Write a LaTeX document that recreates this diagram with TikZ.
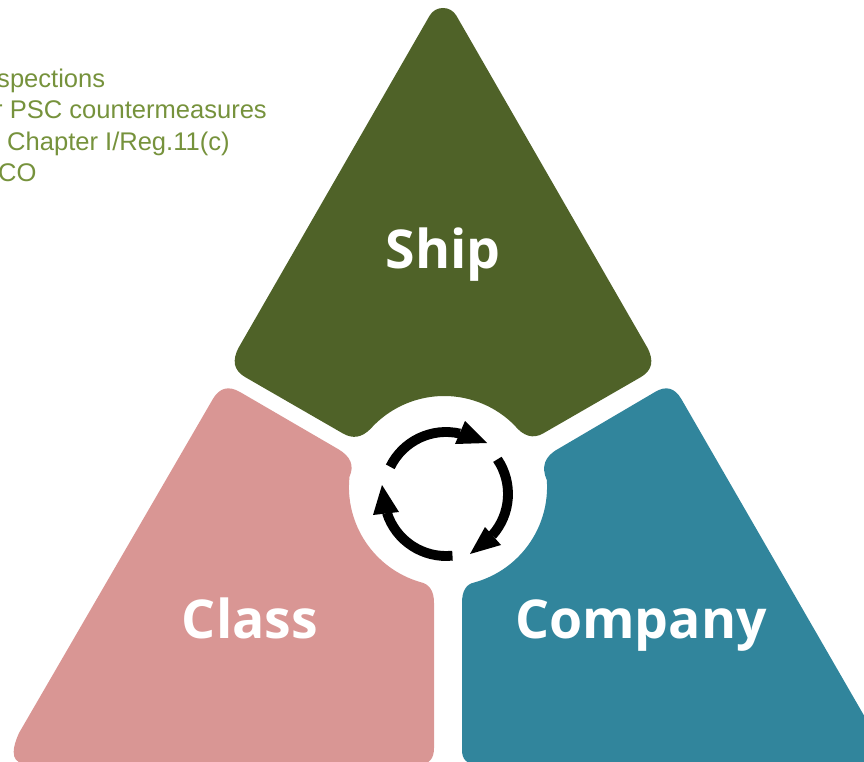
\documentclass[tikz,border=0pt]{standalone}
\usepackage{fontspec}
\usetikzlibrary{calc}
\setmainfont{Liberation Sans}
\newfontfamily\labelfont{Open Sans}
\definecolor{shipgreen}{HTML}{4F6228}
\definecolor{classpink}{HTML}{D99694}
\definecolor{companyblue}{HTML}{31859C}
\definecolor{notegreen}{HTML}{76923C}
% rounded corner from #1 to #3 about the vertex #2
\newcommand{\petalcorner}[3]{(#1) .. controls ($(#1)!.667!(#2)$) and ($(#3)!.667!(#2)$) .. (#3)}
\begin{document}
\begin{tikzpicture}[x=0.03cm,y=-0.03cm,
		title/.style={anchor=base,text=white,font=\labelfont\bfseries\fontsize{45.7}{54}\selectfont,inner sep=0pt},
		note/.style={anchor=base west,text=notegreen,font=\fontsize{21.8}{26}\selectfont,inner sep=0pt},
		cycle/.style={line width=8.4pt}]
				\useasboundingbox (0,0) rectangle (864,762);
				\clip (0,0) rectangle (864,762);
				
				% three petals
				\fill[shipgreen] (429.6,15.7) .. controls (435.5,5.4) and (450.5,5.4) .. (456.4,15.7)
					-- \petalcorner{647,347}{658,367}{641,377}
					-- \petalcorner{543,433.5}{528,442}{514.2,425}
					arc (315:222:99)
					.. controls ($(369.4,428.8)!.667!(358,442)$) and ($(343,433.5)!.667!(358,442)$) .. (343,433.5)
					-- \petalcorner{245,377}{228,367}{239,347} -- cycle;
				\fill[classpink] \petalcorner{212.7,399.3}{222.7,382}{240,392}
					-- \petalcorner{338,449}{357,460}{349.5,476.7}
					arc (186:106.4:99)
					.. controls ($(420.6,582)!.667!(434,585)$) and ($(434,603)!.667!(434,585)$) .. (434,603)
					-- \petalcorner{434,748}{434,764}{420,764}
					-- \petalcorner{28,764}{5,764}{19,733} -- cycle;
				\fill[companyblue] \petalcorner{681.5,399.3}{671.5,382}{655,392}
					-- \petalcorner{558,449}{538,460}{546.8,480.1}
					arc (-4:74.6:99)
					.. controls ($(474.3,582.4)!.667!(462,585)$) and ($(462,603)!.667!(462,585)$) .. (462,603)
					-- \petalcorner{462,750}{462,764}{476,764}
					-- (892,764) -- cycle;
				
				% cycle arrows
				\draw[cycle] (446,494) ++(206:62) arc (206:283:62);
				\draw[cycle] (446,494) ++(-34:62) arc (-34:42:62);
				\draw[cycle] (446,494) ++(84:62) arc (84:162.4:62);
				\fill (487,443) -- (465,421) -- (455,444) -- cycle;
				\fill (470,554) -- (485,527) -- (501,545) -- cycle;
				\fill (382,485) -- (373,515) -- (399,512) -- cycle;
				
				\node[title] (ship) at (443,268) {Ship};
				\node[title] (class) at (250,638) {Class};
				\node[title] (company) at (641,638) {Company};
				
				\node[note] (line1) at (-3,88) {spections};
				\node[note] (line2) at (-6,119) {r PSC countermeasures};
				\node[note] (line3) at (7,151) {Chapter I/Reg.11(c)};
				\node[note] (line4) at (-2,181) {CO};
\end{tikzpicture}
\end{document}
